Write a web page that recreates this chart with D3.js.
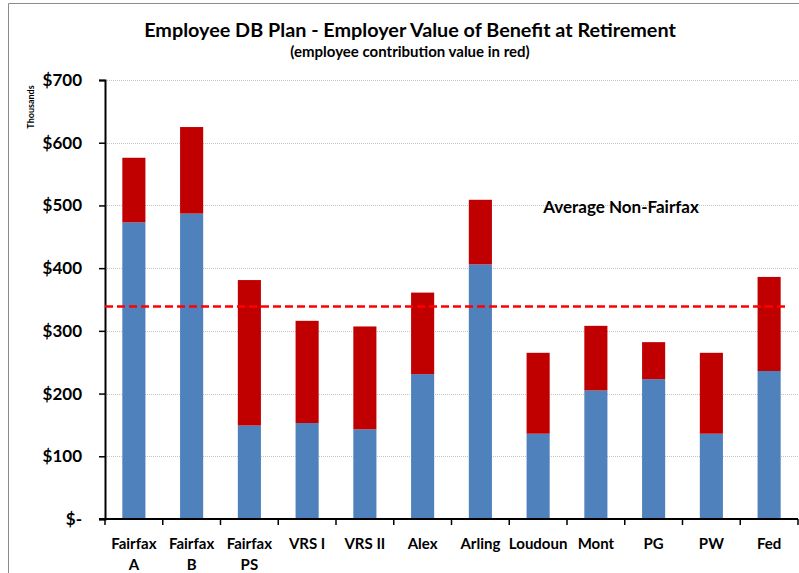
<!DOCTYPE html>
<html>
<head>
<meta charset="utf-8">
<script src="https://cdn.jsdelivr.net/npm/d3@7"></script>
<style>
  body { margin: 0; background: #fff; }
  text { font-family: Lato, "Open Sans", sans-serif; font-weight: bold; fill: #000; }
</style>
</head>
<body>
<svg id="chart" width="799" height="573"></svg>
<script>
// categories and values (thousands of dollars)
var plans = [["Fairfax", "A"], ["Fairfax", "B"], ["Fairfax", "PS"], ["VRS I"], ["VRS II"], ["Alex"],
             ["Arling"], ["Loudoun"], ["Mont"], ["PG"], ["PW"], ["Fed"]];
var employerValue = [473, 487, 149, 153, 143, 231, 406, 136, 205, 223, 136, 236];
var employeeValue = [103, 138, 232, 163, 164, 130, 103, 129, 103, 59, 129, 150];
var avgNonFairfax = 339;
var yTicks = [0, 100, 200, 300, 400, 500, 600, 700];

var svg = d3.select('#chart');

var plotL = 105, plotR = 798, plotT = 80, plotB = 519;

var x = d3.scaleBand()
    .domain(d3.range(plans.length))
    .range([plotL, plotR])
    .paddingInner(0.6)
    .paddingOuter(0.3);

var y = d3.scaleLinear().domain([0, 700]).range([plotB, plotT]);

// frame of the chart area
svg.append('path')
    .attr('d', 'M8.5,573 L8.5,3.5 L799,3.5')
    .attr('fill', 'none')
    .attr('stroke', '#8c8c8c')
    .attr('stroke-width', 1);

// gridlines
svg.append('g')
    .selectAll('line')
    .data(yTicks.slice(1))
    .enter()
    .append('line')
    .attr('x1', plotL)
    .attr('x2', plotR)
    .attr('y1', function(d) { return Math.round(y(d)) + 0.5; })
    .attr('y2', function(d) { return Math.round(y(d)) + 0.5; })
    .attr('stroke', '#c4c4c4')
    .attr('stroke-dasharray', '1,1');

// stacked bars: employer (blue) below, employee (red) on top
var bars = svg.append('g').selectAll('g')
    .data(plans.map(function(p, i) { return { i: i, base: employerValue[i], top: employerValue[i] + employeeValue[i] }; }))
    .enter()
    .append('g');

bars.append('rect')
    .attr('x', function(d) { return x(d.i); })
    .attr('width', x.bandwidth())
    .attr('y', function(d) { return y(d.base); })
    .attr('height', function(d) { return y(0) - y(d.base); })
    .attr('fill', '#4f81bd');

bars.append('rect')
    .attr('x', function(d) { return x(d.i); })
    .attr('width', x.bandwidth())
    .attr('y', function(d) { return y(d.top); })
    .attr('height', function(d) { return y(d.base) - y(d.top); })
    .attr('fill', '#c00000');

// y axis
var yAxis = d3.axisLeft(y)
    .tickValues(yTicks)
    .tickSize(6)
    .tickPadding(17)
    .tickFormat(function(d) { return d === 0 ? '$-' : '$' + d; });

var ya = svg.append('g')
    .attr('transform', 'translate(' + plotL + ',0)')
    .call(yAxis);
ya.select('.domain').attr('stroke', '#000').attr('stroke-width', 2);
ya.selectAll('.tick line').attr('stroke', '#000').attr('stroke-width', 1.5);
ya.selectAll('.tick text').style('font-size', '17px').attr('font-family', null);

// x axis
var xa = svg.append('g')
    .attr('transform', 'translate(0,' + plotB + ')');
xa.append('line')
    .attr('x1', plotL - 6).attr('x2', plotR)
    .attr('y1', 0).attr('y2', 0)
    .attr('stroke', '#000').attr('stroke-width', 2);
xa.selectAll('.tk')
    .data(d3.range(plans.length + 1))
    .enter()
    .append('line')
    .attr('x1', function(d) { return plotL + d * x.step(); })
    .attr('x2', function(d) { return plotL + d * x.step(); })
    .attr('y1', 0).attr('y2', 6)
    .attr('stroke', '#000').attr('stroke-width', 1.5);

var labels = xa.selectAll('.lbl')
    .data(plans)
    .enter()
    .append('text')
    .attr('text-anchor', 'middle')
    .style('font-size', '15px');
labels.selectAll('tspan')
    .data(function(d, i) { return d.map(function(s) { return { s: s, i: i }; }); })
    .enter()
    .append('tspan')
    .attr('x', function(d) { return x(d.i) + x.bandwidth() / 2; })
    .attr('y', function(d, j) { return 30 + j * 21; })
    .text(function(d) { return d.s; });

// average line
svg.append('line')
    .attr('x1', plotL)
    .attr('x2', 785)
    .attr('y1', y(avgNonFairfax))
    .attr('y2', y(avgNonFairfax))
    .attr('stroke', '#ff0000')
    .attr('stroke-width', 2.5)
    .attr('stroke-dasharray', '8,4');

svg.append('text')
    .attr('x', 621)
    .attr('y', 213)
    .attr('text-anchor', 'middle')
    .style('font-size', '17px')
    .text('Average Non-Fairfax');

// titles
svg.append('text')
    .attr('x', 410)
    .attr('y', 37)
    .attr('text-anchor', 'middle')
    .style('font-size', '19.8px')
    .text('Employee DB Plan - Employer Value of Benefit at Retirement');

svg.append('text')
    .attr('x', 410)
    .attr('y', 57)
    .attr('text-anchor', 'middle')
    .style('font-size', '15px')
    .text('(employee contribution value in red)');

svg.append('text')
    .attr('transform', 'translate(34,107) rotate(-90)')
    .attr('text-anchor', 'middle')
    .style('font-size', '9px')
    .text('Thousands');
</script>
</body>
</html>
